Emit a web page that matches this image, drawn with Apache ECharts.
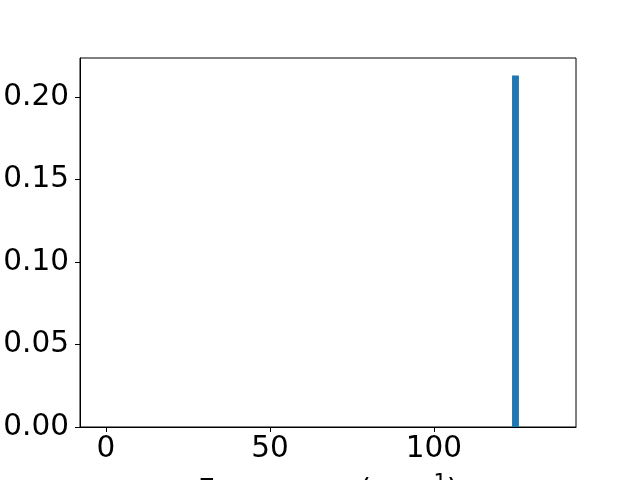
<!DOCTYPE html>
<html><head><meta charset="utf-8">
<script src="https://cdn.jsdelivr.net/npm/echarts@6/dist/echarts.min.js"></script>
<style>html,body{margin:0;padding:0;background:#fff}#c{width:640px;height:480px}</style>
</head><body><div id="c"></div>
<script>
const binLeft = [123.8];
const binRight = [125.9];
const binValues = [0.213];
const xTicks = [0, 50, 100];
const yTicks = [0, 0.05, 0.10, 0.15, 0.20];
const xLabel = 'Frequency (cm';

const chart = echarts.init(document.getElementById('c'));
const font = 'DejaVu Sans';
const fs = 29.5;
chart.setOption({
  animation: false,
  grid: {left: 80, right: 64, top: 58, bottom: 53, show: true, borderColor: '#000', borderWidth: 1,
    backgroundColor: 'transparent', containLabel: false, outerBoundsMode: 'none'},
  xAxis: {
    type: 'value', min: -7.93, max: 143.3,
    axisLine: {show: true, onZero: false, lineStyle: {color: '#000', width: 1}},
    axisTick: {show: true, length: 5, lineStyle: {color: '#000'}, customValues: xTicks},
    axisLabel: {color: '#000', fontFamily: font, fontSize: fs, margin: 7, customValues: xTicks},
    splitLine: {show: false},
    name: '{a|' + xLabel + '}{s|−1}{a|)}',
    nameLocation: 'middle', nameGap: 46,
    nameTextStyle: {rich: {
      a: {color: '#000', fontFamily: font, fontSize: fs, verticalAlign: 'bottom'},
      s: {color: '#000', fontFamily: font, fontSize: 21, verticalAlign: 'bottom', padding: [0, 0, 13, 0]}
    }}
  },
  yAxis: {
    type: 'value', min: 0, max: 0.2236,
    axisLine: {show: true, onZero: false, lineStyle: {color: '#000', width: 1}},
    axisTick: {show: true, length: 5, lineStyle: {color: '#000'}, customValues: yTicks},
    axisLabel: {color: '#000', fontFamily: font, fontSize: fs, margin: 11, customValues: yTicks,
      formatter: v => v.toFixed(2)},
    splitLine: {show: false}
  },
  series: [{
    type: 'custom',
    data: binLeft.map((l, i) => [l, binRight[i], binValues[i]]),
    encode: {x: [0, 1], y: 2},
    renderItem: (params, api) => {
      const p0 = api.coord([api.value(0), 0]);
      const p1 = api.coord([api.value(1), api.value(2)]);
      return {type: 'rect', shape: {x: p0[0], y: p1[1], width: p1[0] - p0[0], height: p0[1] - p1[1]},
        style: {fill: '#1f77b4'}};
    }
  }]
});
</script></body></html>
